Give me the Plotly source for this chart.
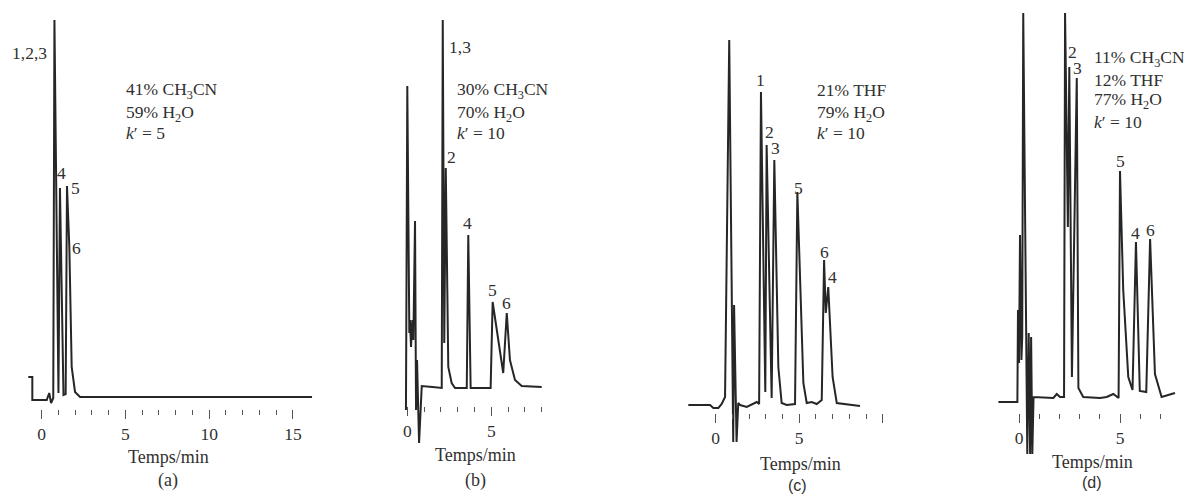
import plotly.graph_objects as go

W, H = 1184, 495

# ---------------- data: chromatograms (time / min, detector signal / arb. units) -------------
a_time = [-0.80, -0.56, -0.56, 0.30, 0.45, 0.56, 0.69, 0.76, 1.00, 1.09, 1.30, 1.43, 1.51, 1.65,
          1.79, 1.99, 2.29, 5.0, 10.0, 16.14]
a_signal = [20, 20, -3, -3, 4, -6, -1, 377, 4, 209, 2, 3, 211, 150,
            30, 5, 0, 0, 0, 0]

b_time = [-0.08, 0.00, 0.12, 0.16, 0.22, 0.30, 0.36, 0.46, 0.52, 0.58, 0.70, 0.86, 1.50, 2.05,
          2.11, 2.20, 2.29, 2.44, 2.64, 2.84, 3.54, 3.63, 3.77, 4.96, 5.08, 5.71, 5.92, 6.11,
          6.41, 6.81, 8.00]
b_signal = [-22, 302, 55, 68, 41, 68, 48, 167, -22, 28, -55, 2, 1, 0,
            368, 45, 220, 21, 5, 0, 0, 153, 0, 0, 86, 15, 75, 28,
            8, 2, 1]

c_time = [-1.64, -0.34, -0.14, 0.16, 0.36, 0.56, 0.81, 1.05, 1.10, 1.25, 1.35, 1.46, 1.86, 2.46,
          2.60, 2.71, 2.97, 3.05, 3.35, 3.51, 3.75, 3.95, 4.25, 4.75, 4.89, 5.25, 5.45, 5.75,
          6.05, 6.35, 6.49, 6.59, 6.74, 7.00, 7.25, 8.64]
c_signal = [0, 0, -3, -3, 1, 8, 365, -37, 100, -37, 2, 0, -2, 3,
            1, 313, 13, 260, 7, 245, 38, 2, 0, 1, 213, 22, 2, 3,
            1, 5, 145, 92, 118, 28, 2, -1]

d_time = [-1.02, -0.08, -0.05, 0.00, 0.05, 0.12, 0.16, 0.21, 0.41, 0.48, 0.55, 0.60, 0.66, 0.72,
          1.70, 1.87, 2.03, 2.23, 2.28, 2.42, 2.49, 2.62, 2.86, 2.94, 3.18, 4.01, 4.34, 4.67,
          4.93, 5.00, 5.16, 5.41, 5.62, 5.79, 5.98, 6.30, 6.49, 6.73, 7.06, 7.39, 7.72]
d_signal = [-5, -5, 87, 34, 162, 37, 60, 384, -57, 64, -57, 60, -57, 0,
            -1, 3, 0, 0, 384, 170, 330, 20, 319, 9, 0, -1, 0, 3,
            -1, 226, 107, 20, 7, 155, 6, 5, 158, 23, 0, 2, 4]

# peak labels (text, time, signal)
a_peak_text = ["1,2,3", "4", "5", "6"]
a_peak_time = [-0.73, 1.21, 1.99, 2.05]
a_peak_signal = [344, 224, 209, 149]

b_peak_text = ["1,3", "2", "4", "5", "6"]
b_peak_time = [3.14, 2.66, 3.61, 5.08, 5.88]
b_peak_signal = [341, 231, 165, 98, 85]

c_peak_text = ["1", "2", "3", "5", "6", "4"]
c_peak_time = [2.71, 3.25, 3.61, 4.93, 6.49, 7.02]
c_peak_signal = [325, 273, 257, 217, 153, 128]

d_peak_text = ["2", "3", "5", "4", "6"]
d_peak_time = [2.67, 2.92, 5.00, 5.79, 6.52]
d_peak_signal = [345, 329, 236, 164, 167]

# mobile phase conditions
a_conditions = ["41% CH<sub>3</sub>CN", "59% H<sub>2</sub>O", "<i>k</i>′ = 5"]
b_conditions = ["30% CH<sub>3</sub>CN", "70% H<sub>2</sub>O", "<i>k</i>′ = 10"]
c_conditions = ["21% THF", "79% H<sub>2</sub>O", "<i>k</i>′ = 10"]
d_conditions = ["11% CH<sub>3</sub>CN", "12% THF", "77% H<sub>2</sub>O", "<i>k</i>′ = 10"]

# axis ticks
a_major = [0, 5, 10, 15]
a_minor = [1, 2, 3, 4, 6, 7, 8, 9, 11, 12, 13, 14]
b_major = [0, 5]
b_minor = [1, 2, 3, 4, 6, 7, 8]
c_major = [0, 5, 10]
c_major_text = ["0", "5", ""]
c_minor = [1, 2, 3, 4, 6, 7, 8, 9]
d_major = [0, 5]
d_minor = [1, 2, 3, 4, 6, 7]

captions = ["(a)", "(b)", "(c)", "(d)"]
xlabel = "Temps/min"

# ---------------- layout geometry (pixels) ----------------
SERIF = "Liberation Serif, Times New Roman, serif"
SANS = "Liberation Sans, Arial, sans-serif"
LINE = "#262626"
TXT = "#303030"
FS = 17.5

panels = [
    dict(t=a_time, s=a_signal, pt=a_peak_text, px=a_peak_time, ps=a_peak_signal,
         cond=a_conditions, cond_t=4.92, cond_s=[307, 284, 264],
         major=a_major, major_text=[str(v) for v in a_major], minor=a_minor,
         dom=(0, 330), t0=41.7, ppm=16.75, base=397, tick_top=409,
         lab_x=168, lab_y=457, cap_x=168, cap_y=480, cap_font=SERIF),
    dict(t=b_time, s=b_signal, pt=b_peak_text, px=b_peak_time, ps=b_peak_signal,
         cond=b_conditions, cond_t=2.84, cond_s=[298, 275, 255],
         major=b_major, major_text=[str(v) for v in b_major], minor=b_minor,
         dom=(330, 600), t0=407.3, ppm=16.8, base=388, tick_top=406,
         lab_x=475, lab_y=455, cap_x=475, cap_y=480, cap_font=SERIF),
    dict(t=c_time, s=c_signal, pt=c_peak_text, px=c_peak_time, ps=c_peak_signal,
         cond=c_conditions, cond_t=5.95, cond_s=[315, 292, 272],
         major=c_major, major_text=c_major_text, minor=c_minor,
         dom=(600, 900), t0=715.7, ppm=16.7, base=405, tick_top=413,
         lab_x=800, lab_y=464, cap_x=797, cap_y=485, cap_font=SANS),
    dict(t=d_time, s=d_signal, pt=d_peak_text, px=d_peak_time, ps=d_peak_signal,
         cond=d_conditions, cond_t=3.60, cond_s=[339, 317, 297, 275],
         major=d_major, major_text=[str(v) for v in d_major], minor=d_minor,
         dom=(900, 1184), t0=1019, ppm=20.2, base=397, tick_top=413,
         lab_x=1092, lab_y=462, cap_x=1092, cap_y=482, cap_font=SANS),
]

fig = go.Figure()
annotations = []
layout_axes = {}

for i, p in enumerate(panels, start=1):
    xa = "x" if i == 1 else f"x{i}"
    ya = "y" if i == 1 else f"y{i}"
    fig.add_trace(go.Scatter(x=p["t"], y=p["s"], xaxis=xa, yaxis=ya, mode="lines",
                             line=dict(color=LINE, width=2), showlegend=False,
                             hoverinfo="skip"))
    l, r = p["dom"]
    xr = [(l - p["t0"]) / p["ppm"], (r - p["t0"]) / p["ppm"]]
    yr = [p["base"] - H, p["base"]]
    layout_axes["xaxis" if i == 1 else f"xaxis{i}"] = dict(
        domain=[l / W, r / W], range=xr, anchor="free", position=1 - p["tick_top"] / H,
        side="bottom", showline=False, showgrid=False, zeroline=False,
        tickmode="array", tickvals=p["major"], ticktext=p["major_text"],
        ticks="outside", ticklen=9, tickwidth=1.2, tickcolor="#555",
        tickfont=dict(family=SERIF, size=FS, color=TXT),
        minor=dict(tickmode="array", tickvals=p["minor"], ticks="outside",
                   ticklen=5, tickwidth=1.2, tickcolor="#555", showgrid=False),
        fixedrange=True,
    )
    layout_axes["yaxis" if i == 1 else f"yaxis{i}"] = dict(
        domain=[0, 1], range=yr, visible=False, anchor=xa, fixedrange=True)

    for txt, tx, sy in zip(p["pt"], p["px"], p["ps"]):
        annotations.append(dict(x=tx, y=sy, xref=xa, yref=ya, text=txt, showarrow=False,
                                xanchor="center", yanchor="middle",
                                font=dict(family=SERIF, size=FS, color=TXT)))
    for txt, sy in zip(p["cond"], p["cond_s"]):
        annotations.append(dict(x=p["cond_t"], y=sy, xref=xa, yref=ya, text=txt,
                                showarrow=False, xanchor="left", yanchor="middle",
                                font=dict(family=SERIF, size=FS, color=TXT)))
    annotations.append(dict(x=p["lab_x"] / W, y=1 - p["lab_y"] / H, xref="paper", yref="paper",
                            text=xlabel, showarrow=False, xanchor="center", yanchor="middle",
                            font=dict(family=SERIF, size=18, color=TXT)))
    annotations.append(dict(x=p["cap_x"] / W, y=1 - p["cap_y"] / H, xref="paper", yref="paper",
                            text=captions[i - 1], showarrow=False, xanchor="center",
                            yanchor="middle",
                            font=dict(family=p["cap_font"],
                                      size=18 if p["cap_font"] == SERIF else 16, color=TXT)))

fig.update_layout(width=W, height=H, margin=dict(l=0, r=0, t=0, b=0),
                  paper_bgcolor="white", plot_bgcolor="white",
                  annotations=annotations, **layout_axes)

fig.write_html("out.html", config={"displayModeBar": False})
